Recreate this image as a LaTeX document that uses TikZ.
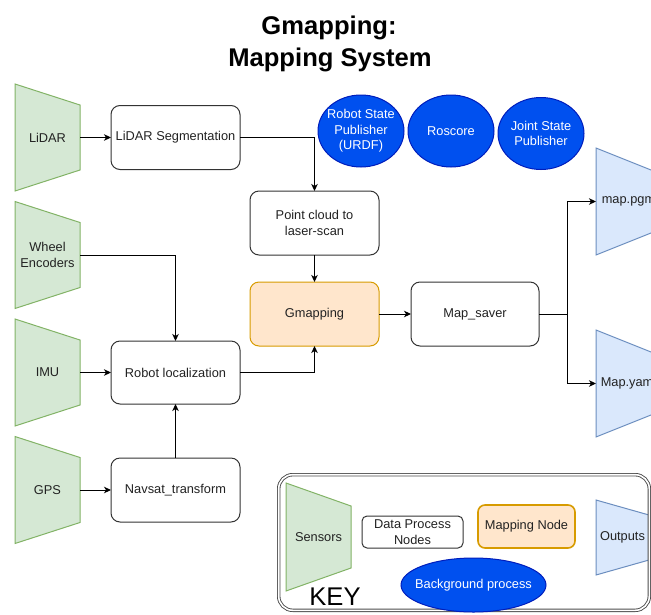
\documentclass[tikz,border=0pt]{standalone}
\usepackage{fontspec}
\setmainfont{Liberation Sans}
\usetikzlibrary{arrows.meta,shapes.geometric}
\pgfdeclarelayer{background}
\pgfsetlayers{background,main}

\definecolor{sensfill}{HTML}{D5E8D4}
\definecolor{sensline}{HTML}{82B366}
\definecolor{outfill}{HTML}{DAE8FC}
\definecolor{outline}{HTML}{6C8EBF}
\definecolor{mapfill}{HTML}{FFE6CC}
\definecolor{mapline}{HTML}{D79B00}
\definecolor{bgfill}{HTML}{0050EF}
\definecolor{bgline}{HTML}{001DBC}
\definecolor{txt}{HTML}{222222}

\newcommand\bodyfont{\fontsize{12.8}{15.4}\selectfont}

% trapezoid outline drawn behind a named node: long left edge, short right edge
\newcommand\trapshape[3]{%
  \begin{pgfonlayer}{background}
    \draw[#3] (#1.north west) -- ([yshift=-#2pt]#1.north east)
      -- ([yshift=#2pt]#1.south east) -- (#1.south west) -- cycle;
  \end{pgfonlayer}}

\tikzset{
  every node/.style={font=\bodyfont, text=txt, inner sep=0pt, outer sep=0pt, align=center},
  trapnode/.style={draw=none, minimum width=65pt, minimum height=107pt},
  sensshape/.style={fill=sensfill, draw=sensline, line width=1pt, line join=miter},
  outshape/.style={fill=outfill, draw=outline, line width=1pt, line join=miter},
  procbox/.style={draw=black!80, line width=1pt, rounded corners=9pt, fill=white,
                  minimum width=129pt, minimum height=64pt},
  mapbox/.style={procbox, fill=mapfill, draw=mapline},
  bgproc/.style={ellipse, fill=bgfill, draw=bgline, line width=1pt, text=white,
                 inner xsep=-9pt, inner ysep=-4pt,
                 minimum width=86pt, minimum height=72pt},
  conn/.style={draw=black, line width=1pt, -{Stealth[length=7pt,width=6.5pt,inset=2pt]}},
  plainline/.style={draw=black, line width=1pt},
  titletext/.style={font=\fontsize{25.6}{30}\bfseries\selectfont, text=black},
  keyframe/.style={draw=black!70, double=white, double distance=1.6pt, line width=0.9pt,
                   rounded corners=14pt},
}

\begin{document}
\begin{tikzpicture}[x=1pt, y=-1pt]
\useasboundingbox (0,0) rectangle (651,614);
\clip (0,0) rectangle (651,614);

% title
\node[titletext, anchor=base] (title1) at (329,34) {Gmapping:};
\node[titletext, anchor=base] (title2) at (330,66) {Mapping System};

% sensors
\node[trapnode] (lidar) at (47.5,137.5) {LiDAR};
\node[trapnode] (wheel) at (47.5,255)   {Wheel\\Encoders};
\node[trapnode] (imu)   at (47.5,372.5) {IMU};
\node[trapnode] (gps)   at (47.5,490)   {GPS};
\trapshape{lidar}{21}{sensshape}
\trapshape{wheel}{21}{sensshape}
\trapshape{imu}{21}{sensshape}
\trapshape{gps}{21}{sensshape}

% processing nodes
\node[procbox] (lidarseg) at (175.5,137.5) {LiDAR Segmentation};
\node[procbox, minimum height=63pt] (robloc) at (175.5,372.5) {Robot localization};
\node[procbox] (navsat)   at (175.5,490)   {Navsat\_transform};
\node[procbox] (pcl)      at (314.5,223)   {Point cloud to\\laser-scan};
\node[mapbox]  (gmap)     at (314.5,314)   {Gmapping};
\node[procbox, minimum width=128pt] (mapsaver) at (475,314) {Map\_saver};

% background processes
\node[bgproc] (rsp)     at (361,131)   {Robot State\\Publisher\\(URDF)};
\node[bgproc] (roscore) at (451,131)   {Roscore};
\node[bgproc] (jsp)     at (541,133.5) {Joint State\\Publisher};

% outputs (they run past the right edge of the page)
\node[trapnode] (mappgm)  at (628.5,201.5) {map.pgm};
\node[trapnode] (mapyaml) at (628.5,383.5) {Map.yaml};
\trapshape{mappgm}{26}{outshape}
\trapshape{mapyaml}{26}{outshape}

% connectors
\draw[conn] (lidar) -- (lidarseg);
\draw[conn] (lidarseg.east) -| (pcl.north);
\draw[conn] (pcl) -- (gmap);
\draw[conn] (wheel.east) -| (robloc.north);
\draw[conn] (imu) -- (robloc);
\draw[conn] (gps) -- (navsat);
\draw[conn] (navsat) -- (robloc);
\draw[conn] (robloc.east) -| (gmap.south);
\draw[conn] (gmap) -- (mapsaver);
\coordinate (split) at (567,314);
\draw[plainline] (mapsaver.east) -- (split);
\draw[conn] (split) |- (mappgm.west);
\draw[conn] (split) |- (mapyaml.west);

% key
\node[keyframe, minimum width=370.6pt, minimum height=135.6pt] (key) at (464,542.5) {};
\node[trapnode, minimum height=108pt] (keysens) at (318.5,537) {Sensors};
\trapshape{keysens}{23}{sensshape}
\node[procbox, minimum width=101pt, minimum height=32pt, rounded corners=5pt] (keydata) at (412.5,532) {Data Process\\Nodes};
\node[mapbox, minimum width=97pt, minimum height=43pt, rounded corners=7pt, line width=1.6pt] (keymap) at (526.5,526.5) {Mapping Node};
\node[trapnode, minimum width=53pt, minimum height=75pt] (keyout) at (622.5,537.5) {Outputs};
\trapshape{keyout}{15}{outshape}
\node[bgproc, minimum width=145pt, minimum height=54pt] (keybg) at (473.5,585) {Background process};
\node[anchor=base, font=\fontsize{25.6}{30}\selectfont, text=black] (keylabel) at (335,605) {KEY};
\end{tikzpicture}
\end{document}
